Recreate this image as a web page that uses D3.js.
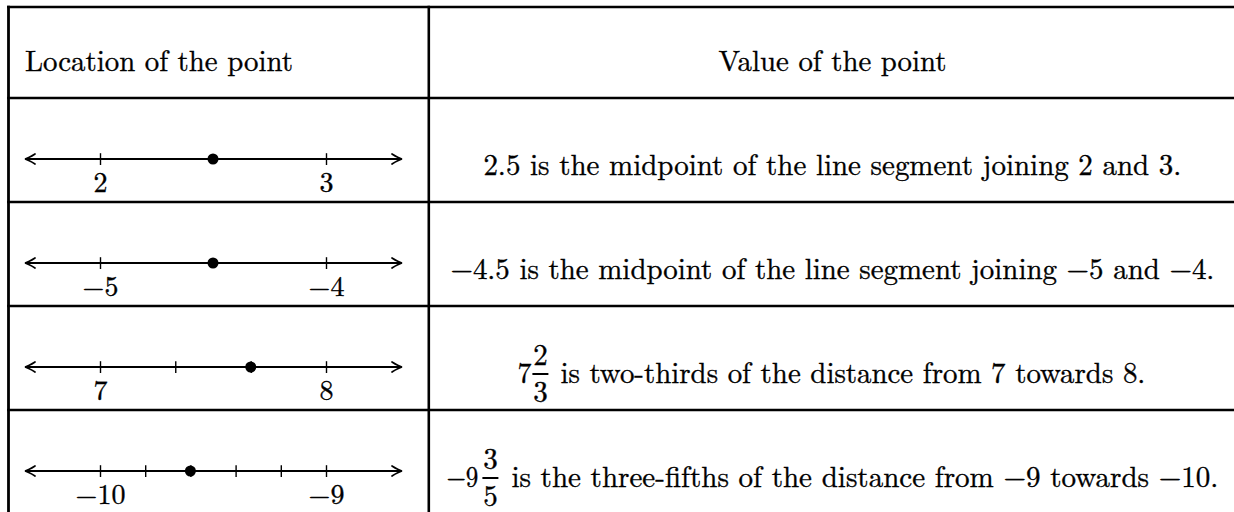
<!DOCTYPE html>
<html>
<head>
<meta charset="utf-8">
<script src="https://cdn.jsdelivr.net/npm/d3@7"></script>
<style>
  html, body { margin: 0; padding: 0; background: #fff; }
  svg { display: block; }
</style>
</head>
<body>
<svg id="chart" width="1234" height="512"></svg>
<script>
// ---------------- data ----------------
const headers = ["Location of the point", "Value of the point"];
const domains = [[2, 3], [-5, -4], [7, 8], [-10, -9]];
const labelTicks = [[2, 3], [-5, -4], [7, 8], [-10, -9]];
const minorTicks = [[], [], [7.333, 7.667], [-9.8, -9.6, -9.4, -9.2]];
const pointValues = [2.5, -4.5, 7.667, -9.6];
const leadParts = ["2.5", "\u22124.5", "7", "\u22129"];
const fracNum = [null, null, "2", "3"];
const fracDen = [null, null, "3", "5"];
const restParts = [
  "is the midpoint of the line segment joining 2 and 3.",
  "is the midpoint of the line segment joining \u22125 and \u22124.",
  "is two-thirds of the distance from 7 towards 8.",
  "is the three-fifths of the distance from \u22129 towards \u221210."
];

// ---------------- layout ----------------
const W = 1234, H = 512;
const FONT = "Latin Modern Roman, Liberation Serif, serif";
const tableLeft = 8.5, colDiv = 428.8, tableTop = 7, headerBottom = 98, rowH = 104;
const colCenter = (colDiv + W) / 2 + 1;
const textLayout = [
  { full: true, width: 698 },
  { full: true, width: 764 },
  { full: false, start: -315, leadW: 14, barL: 15, barW: 16, restX: 43, restW: 585 },
  { full: false, start: -386, leadW: 32, barL: 36, barW: 16, restX: 65, restW: 707 }
];

const svg = d3.select("#chart");
svg.append("rect").attr("width", W).attr("height", H).attr("fill", "#fff");

function txt(sel, s, size) {
  return sel.append("text").text(s)
    .style("font-family", FONT).style("font-size", size + "px")
    .attr("fill", "#000").attr("stroke", "#000").attr("stroke-width", 0.35);
}

const rowTop = i => headerBottom + i * rowH;

// ---------------- table grid ----------------
const hLines = [tableTop, headerBottom].concat(domains.map((d, i) => rowTop(i + 1)).slice(0, domains.length - 1));
svg.selectAll("line.h").data(hLines).enter().append("line")
  .attr("class", "h")
  .attr("x1", tableLeft - 1.4).attr("x2", W + 5)
  .attr("y1", d => d).attr("y2", d => d)
  .attr("stroke", "#000").attr("stroke-width", 2.5);

svg.append("line").attr("x1", tableLeft).attr("x2", tableLeft)
  .attr("y1", tableTop - 1.25).attr("y2", H + 5)
  .attr("stroke", "#000").attr("stroke-width", 2.8);
svg.append("line").attr("x1", colDiv).attr("x2", colDiv)
  .attr("y1", tableTop - 1.25).attr("y2", H + 5)
  .attr("stroke", "#000").attr("stroke-width", 2.6);

// ---------------- headers ----------------
txt(svg, headers[0], 29)
  .attr("x", 25).attr("y", 71)
  .attr("textLength", 268).attr("lengthAdjust", "spacingAndGlyphs");
txt(svg, headers[1], 29)
  .attr("x", colCenter - 114).attr("y", 71)
  .attr("textLength", 228).attr("lengthAdjust", "spacingAndGlyphs");

// ---------------- number lines ----------------
function arrowPath(xt, y, dir) {
  const L = 10, h = 5;
  return `M${xt - dir * L},${y - h} Q${xt - dir * 3.5},${y - 0.9} ${xt},${y} Q${xt - dir * 3.5},${y + 0.9} ${xt - dir * L},${y + h}`;
}

domains.forEach((dom, i) => {
  const axisY = rowTop(i) + 61;
  const x = d3.scaleLinear().domain(dom).range([100, 326]);
  const g = svg.append("g").attr("transform", `translate(0,${axisY})`);

  const x0 = x.range()[0] - 75, x1 = x.range()[1] + 76;
  g.append("line").attr("x1", x0 + 1).attr("x2", x1 - 1).attr("y1", 0).attr("y2", 0)
    .attr("stroke", "#000").attr("stroke-width", 1.9);
  g.append("path").attr("d", arrowPath(x0, 0, -1)).attr("fill", "none")
    .attr("stroke", "#000").attr("stroke-width", 1.7).attr("stroke-linecap", "round");
  g.append("path").attr("d", arrowPath(x1, 0, 1)).attr("fill", "none")
    .attr("stroke", "#000").attr("stroke-width", 1.7).attr("stroke-linecap", "round");

  const allTicks = labelTicks[i].concat(minorTicks[i]);
  const fmt = d3.format("d");
  const axis = d3.axisBottom(x)
    .tickValues(allTicks)
    .tickSize(6)
    .tickFormat(d => labelTicks[i].includes(d) ? fmt(d) : "");
  const ag = g.append("g").call(axis);
  ag.select(".domain").remove();
  ag.attr("font-family", null).attr("font-size", null);
  ag.selectAll(".tick line").attr("y1", -5.8).attr("y2", 6)
    .attr("stroke", "#000").attr("stroke-width", 1.4);
  ag.selectAll(".tick text")
    .attr("y", 32.5).attr("dy", null)
    .attr("fill", "#000").attr("stroke", "#000").attr("stroke-width", 0.35)
    .style("font-family", FONT).style("font-size", "28px")
    .attr("text-anchor", "middle");

  g.append("circle").attr("cx", x(pointValues[i])).attr("cy", 0).attr("r", 5.5).attr("fill", "#000");
});

// ---------------- value column ----------------
restParts.forEach((rest, i) => {
  const base = rowTop(i) + 77;
  const lay = textLayout[i];
  if (lay.full) {
    txt(svg, leadParts[i] + " " + rest, 29)
      .attr("x", colCenter - lay.width / 2).attr("y", base)
      .attr("textLength", lay.width).attr("lengthAdjust", "spacingAndGlyphs");
  } else {
    const sx = colCenter + lay.start;
    txt(svg, leadParts[i], 29)
      .attr("x", sx).attr("y", base)
      .attr("textLength", lay.leadW).attr("lengthAdjust", "spacingAndGlyphs");
    const barX = sx + lay.barL, barY = base - 9;
    svg.append("line").attr("x1", barX).attr("x2", barX + lay.barW)
      .attr("y1", barY).attr("y2", barY)
      .attr("stroke", "#000").attr("stroke-width", 2);
    txt(svg, fracNum[i], 29)
      .attr("x", barX + lay.barW / 2).attr("y", barY - 9.5)
      .attr("text-anchor", "middle");
    txt(svg, fracDen[i], 29)
      .attr("x", barX + lay.barW / 2).attr("y", barY + 27.5)
      .attr("text-anchor", "middle");
    txt(svg, rest, 29)
      .attr("x", sx + lay.restX).attr("y", base)
      .attr("textLength", lay.restW).attr("lengthAdjust", "spacingAndGlyphs");
  }
});
</script>
</body>
</html>
